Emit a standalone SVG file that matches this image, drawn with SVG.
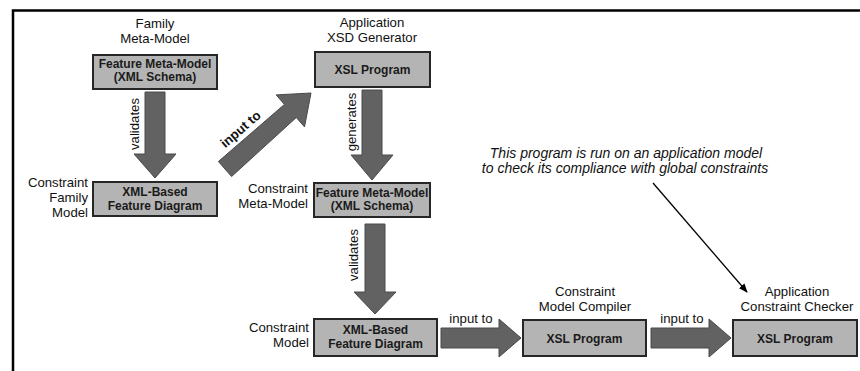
<svg xmlns="http://www.w3.org/2000/svg" width="860" height="371" viewBox="0 0 860 371">
  <style>
    .box { fill: #b4b4b4; stroke: #262626; stroke-width: 2; }
    .btxt { font-family: "Liberation Sans", Arial, sans-serif; font-size: 12px; font-weight: bold; fill: #1a1a1a; text-anchor: middle; }
    .lbl { font-family: "Liberation Sans", Arial, sans-serif; font-size: 13.2px; fill: #111; }
    .mid { text-anchor: middle; }
    .end { text-anchor: end; }
    .note { font-family: "Liberation Sans", Arial, sans-serif; font-size: 14px; font-style: italic; fill: #111; text-anchor: middle; }
    .arrow { fill: #626262; stroke: #4a4a4a; stroke-width: 1; }
  </style>
  <defs>
    <marker id="tip" viewBox="0 0 10 10" refX="9" refY="5" markerWidth="9" markerHeight="9" markerUnits="userSpaceOnUse" orient="auto">
      <path d="M0,1 L10,5 L0,9 Z" fill="#000"/>
    </marker>
  </defs>

  <!-- frame -->
  <path d="M13,371 V10.5 H860" fill="none" stroke="#000" stroke-width="2.5"/>

  <!-- connectors -->
  <g id="connectors">
    <!-- validates (family) -->
    <polygon class="arrow" points="145,92 165,92 165,154 176,154 155,178 134,154 145,154"/>
    <text class="lbl mid" transform="translate(138.5,124) rotate(-90)">validates</text>
    <!-- input to (diagonal) -->
    <polygon class="arrow" points="218.4,161.5 284.4,104.4 276.2,94.9 311,93 304.5,126.9 296.3,117.5 231.6,176.5"/>
    <text class="lbl mid" font-weight="bold" transform="translate(243.5,132.5) rotate(-41)">input to</text>
    <!-- generates -->
    <polygon class="arrow" points="362,90 382,90 382,155 393,155 372,180 351,155 362,155"/>
    <text class="lbl mid" transform="translate(356,122) rotate(-90)">generates</text>
    <!-- validates (constraint) -->
    <polygon class="arrow" points="365,224 385,224 385,292 396,292 375,314 354,292 365,292"/>
    <text class="lbl mid" transform="translate(357.5,255) rotate(-90)">validates</text>
    <!-- input to (model -> compiler) -->
    <polygon class="arrow" points="441,328 499,328 499,319 521,338 499,357 499,348 441,348"/>
    <text class="lbl mid" x="471" y="323">input to</text>
    <!-- input to (compiler -> checker) -->
    <polygon class="arrow" points="651,328 709,328 709,319 731,338 709,357 709,348 651,348"/>
    <text class="lbl mid" x="682" y="323">input to</text>
    <!-- annotation pointer -->
    <line x1="653" y1="183" x2="747" y2="292" stroke="#000" stroke-width="1.3" marker-end="url(#tip)"/>
  </g>

  <!-- Family Meta-Model -->
  <g id="family-meta-model">
    <text class="lbl mid" x="155" y="28">Family</text>
    <text class="lbl mid" x="155" y="43">Meta-Model</text>
    <rect class="box" x="93" y="55" width="124" height="34"/>
    <text class="btxt" x="155" y="67.5">Feature Meta-Model</text>
    <text class="btxt" x="155" y="80.5">(XML Schema)</text>
  </g>

  <!-- Constraint Family Model -->
  <g id="constraint-family-model">
    <text class="lbl end" x="88" y="187">Constraint</text>
    <text class="lbl end" x="88" y="202">Family</text>
    <text class="lbl end" x="88" y="217">Model</text>
    <rect class="box" x="93" y="182" width="124" height="34"/>
    <text class="btxt" x="155" y="196">XML-Based</text>
    <text class="btxt" x="155" y="209.5">Feature Diagram</text>
  </g>

  <!-- Application XSD Generator -->
  <g id="application-xsd-generator">
    <text class="lbl mid" x="372" y="27">Application</text>
    <text class="lbl mid" x="372" y="42">XSD Generator</text>
    <rect class="box" x="315" y="52" width="115" height="35"/>
    <text class="btxt" x="372.5" y="74">XSL Program</text>
  </g>

  <!-- Constraint Meta-Model -->
  <g id="constraint-meta-model">
    <text class="lbl end" x="308" y="193">Constraint</text>
    <text class="lbl end" x="308" y="208">Meta-Model</text>
    <rect class="box" x="314" y="183" width="116" height="34"/>
    <text class="btxt" x="372" y="196.5">Feature Meta-Model</text>
    <text class="btxt" x="372" y="210">(XML Schema)</text>
  </g>

  <!-- Constraint Model -->
  <g id="constraint-model">
    <text class="lbl end" x="309" y="332">Constraint</text>
    <text class="lbl end" x="309" y="347">Model</text>
    <rect class="box" x="314" y="319" width="123" height="37"/>
    <text class="btxt" x="375.5" y="334">XML-Based</text>
    <text class="btxt" x="375.5" y="348">Feature Diagram</text>
  </g>

  <!-- Constraint Model Compiler -->
  <g id="constraint-model-compiler">
    <text class="lbl mid" x="585" y="296">Constraint</text>
    <text class="lbl mid" x="585" y="311">Model Compiler</text>
    <rect class="box" x="523" y="320" width="123" height="36"/>
    <text class="btxt" x="584.5" y="342.5">XSL Program</text>
  </g>

  <!-- Application Constraint Checker -->
  <g id="application-constraint-checker">
    <text class="lbl mid" x="797" y="296">Application</text>
    <text class="lbl mid" x="797" y="311">Constraint Checker</text>
    <rect class="box" x="733" y="320" width="124" height="36"/>
    <text class="btxt" x="795" y="342.5">XSL Program</text>
  </g>

  <!-- annotation -->
  <g id="annotation">
    <text class="note" x="626" y="158">This program is run on an application model</text>
    <text class="note" x="625" y="173">to check its compliance with global constraints</text>
  </g>
</svg>
